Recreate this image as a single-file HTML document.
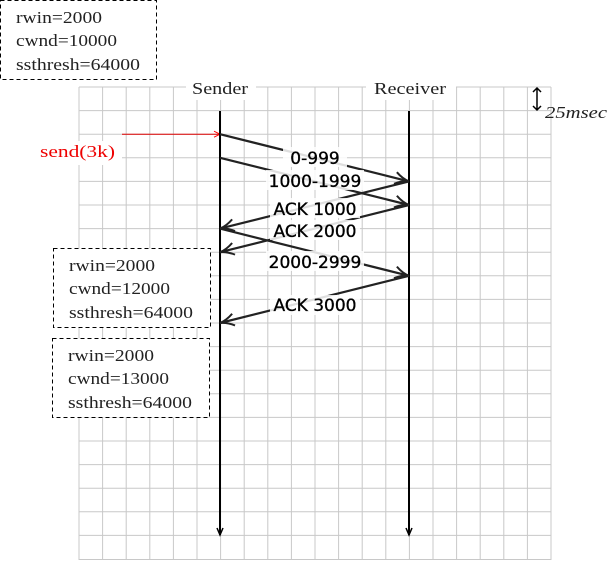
<!DOCTYPE html>
<html><head><style>body{margin:0;background:#fff}svg{display:block}</style></head><body>
<svg width="607" height="561" xmlns="http://www.w3.org/2000/svg">
<defs>
<marker id="a" markerWidth="16" markerHeight="14" refX="15" refY="7" orient="auto" markerUnits="userSpaceOnUse"><path d="M1,1 Q8,6 15,7 Q8,8 1,13" fill="none" stroke="#222" stroke-width="2"/></marker>
<marker id="d" markerWidth="10" markerHeight="8" refX="8" refY="4" orient="auto" markerUnits="userSpaceOnUse"><path d="M1,1 L8,4 L1,7" fill="none" stroke="#000" stroke-width="1.5"/></marker>
<marker id="r" markerWidth="8" markerHeight="8" refX="7" refY="4" orient="auto" markerUnits="userSpaceOnUse"><path d="M1,1 L7,4 L1,7" fill="none" stroke="red" stroke-width="1"/></marker>
</defs>
<g stroke="#c8c8c8" stroke-width="1">
<line x1="79" y1="87" x2="79" y2="560"/><line x1="102.6" y1="87" x2="102.6" y2="560"/><line x1="126.2" y1="87" x2="126.2" y2="560"/><line x1="149.8" y1="87" x2="149.8" y2="560"/><line x1="173.4" y1="87" x2="173.4" y2="560"/><line x1="197" y1="87" x2="197" y2="560"/><line x1="220.6" y1="87" x2="220.6" y2="560"/><line x1="244.2" y1="87" x2="244.2" y2="560"/><line x1="267.8" y1="87" x2="267.8" y2="560"/><line x1="291.4" y1="87" x2="291.4" y2="560"/><line x1="315" y1="87" x2="315" y2="560"/><line x1="338.6" y1="87" x2="338.6" y2="560"/><line x1="362.2" y1="87" x2="362.2" y2="560"/><line x1="385.8" y1="87" x2="385.8" y2="560"/><line x1="409.4" y1="87" x2="409.4" y2="560"/><line x1="433" y1="87" x2="433" y2="560"/><line x1="456.6" y1="87" x2="456.6" y2="560"/><line x1="480.2" y1="87" x2="480.2" y2="560"/><line x1="503.8" y1="87" x2="503.8" y2="560"/><line x1="527.4" y1="87" x2="527.4" y2="560"/><line x1="551" y1="87" x2="551" y2="560"/>
<line x1="79" y1="87" x2="551" y2="87"/><line x1="79" y1="110.6" x2="551" y2="110.6"/><line x1="79" y1="134.2" x2="551" y2="134.2"/><line x1="79" y1="157.8" x2="551" y2="157.8"/><line x1="79" y1="181.4" x2="551" y2="181.4"/><line x1="79" y1="205" x2="551" y2="205"/><line x1="79" y1="228.6" x2="551" y2="228.6"/><line x1="79" y1="252.2" x2="551" y2="252.2"/><line x1="79" y1="275.8" x2="551" y2="275.8"/><line x1="79" y1="299.4" x2="551" y2="299.4"/><line x1="79" y1="323" x2="551" y2="323"/><line x1="79" y1="346.6" x2="551" y2="346.6"/><line x1="79" y1="370.2" x2="551" y2="370.2"/><line x1="79" y1="393.8" x2="551" y2="393.8"/><line x1="79" y1="417.4" x2="551" y2="417.4"/><line x1="79" y1="441" x2="551" y2="441"/><line x1="79" y1="464.6" x2="551" y2="464.6"/><line x1="79" y1="488.2" x2="551" y2="488.2"/><line x1="79" y1="511.8" x2="551" y2="511.8"/><line x1="79" y1="535.4" x2="551" y2="535.4"/><line x1="79" y1="559.5" x2="551" y2="559.5"/>
</g>
<g font-family="Liberation Serif, serif" font-size="17" fill="#222">
<rect x="186" y="78" width="70" height="22" fill="#fff"/>
<rect x="366" y="78" width="90" height="22" fill="#fff"/>
<text x="192" y="94" textLength="56" lengthAdjust="spacingAndGlyphs">Sender</text>
<text x="374" y="94" textLength="72" lengthAdjust="spacingAndGlyphs">Receiver</text>
<rect x="36" y="141" width="86" height="24" fill="#fff"/>
<text x="40" y="157" fill="#e00" textLength="75" lengthAdjust="spacingAndGlyphs">send(3k)</text>
<text x="545" y="118" font-style="italic" textLength="62" lengthAdjust="spacingAndGlyphs">25msec</text>
</g>
<path d="M537,110 L537,88 M533,92 L537,88 L541,92 M533,106 L537,110 L541,106" stroke="#000" stroke-width="1.5" fill="none"/>
<line x1="122" y1="134.2" x2="220" y2="134.2" stroke="#d00" stroke-width="1" marker-end="url(#r)"/>
<line x1="220" y1="111" x2="220" y2="535" stroke="#000" stroke-width="2" marker-end="url(#d)"/>
<line x1="409" y1="111" x2="409" y2="535" stroke="#000" stroke-width="2" marker-end="url(#d)"/>
<g stroke="#222" stroke-width="2.2" marker-end="url(#a)">
<line x1="220" y1="134.2" x2="409" y2="181.4"/>
<line x1="220" y1="157.8" x2="409" y2="205"/>
<line x1="409" y1="181.4" x2="220" y2="228.6"/>
<line x1="409" y1="205" x2="220" y2="252.2"/>
<line x1="220" y1="228.6" x2="409" y2="275.8"/>
<line x1="409" y1="275.8" x2="220" y2="323"/>
</g>
<g font-family="DejaVu Sans, sans-serif" font-size="17" fill="#000" stroke="#000" stroke-width="0.35" text-anchor="middle">
<rect x="283" y="147" width="64" height="20" fill="#fff" stroke="none" opacity="0.85"/>
<text x="315" y="164">0-999</text>
<rect x="266" y="170" width="98" height="20" fill="#fff" stroke="none" opacity="0.85"/>
<text x="315" y="187">1000-1999</text>
<rect x="270" y="198" width="90" height="20" fill="#fff" stroke="none" opacity="0.85"/>
<text x="315" y="215">ACK 1000</text>
<rect x="270" y="220" width="90" height="20" fill="#fff" stroke="none" opacity="0.85"/>
<text x="315" y="237">ACK 2000</text>
<rect x="266" y="251" width="98" height="20" fill="#fff" stroke="none" opacity="0.85"/>
<text x="315" y="268">2000-2999</text>
<rect x="270" y="295" width="90" height="20" fill="#fff" stroke="none" opacity="0.85"/>
<text x="315" y="311">ACK 3000</text>
</g>
<g fill="#fff" stroke="#000" stroke-width="1" stroke-dasharray="4,3">
<rect x="0.5" y="0.5" width="156" height="79"/>
<rect x="53.5" y="248.5" width="157" height="79"/>
<rect x="52.5" y="338.5" width="157" height="79"/>
</g>
<g font-family="Liberation Serif, serif" font-size="17" fill="#222" lengthAdjust="spacingAndGlyphs">
<text x="16" y="23" textLength="86" lengthAdjust="spacingAndGlyphs">rwin=2000</text><text x="16" y="46" textLength="101" lengthAdjust="spacingAndGlyphs">cwnd=10000</text><text x="16" y="70" textLength="124" lengthAdjust="spacingAndGlyphs">ssthresh=64000</text>
<text x="69" y="271" textLength="86" lengthAdjust="spacingAndGlyphs">rwin=2000</text><text x="69" y="294" textLength="101" lengthAdjust="spacingAndGlyphs">cwnd=12000</text><text x="69" y="318" textLength="124" lengthAdjust="spacingAndGlyphs">ssthresh=64000</text>
<text x="68" y="361" textLength="86" lengthAdjust="spacingAndGlyphs">rwin=2000</text><text x="68" y="384" textLength="101" lengthAdjust="spacingAndGlyphs">cwnd=13000</text><text x="68" y="408" textLength="124" lengthAdjust="spacingAndGlyphs">ssthresh=64000</text>
</g>
</svg>
</body></html>
